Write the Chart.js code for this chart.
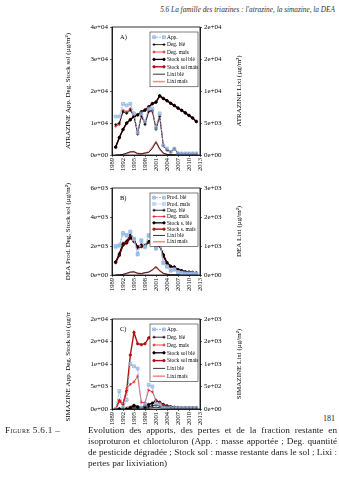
<!DOCTYPE html>
<html><head><meta charset="utf-8">
<script src="https://cdn.jsdelivr.net/npm/chart.js@4/dist/chart.umd.min.js"></script>
<style>
html,body{margin:0;padding:0;background:#fff;}
body{width:339px;height:480px;position:relative;overflow:hidden;font-family:"Liberation Serif",serif;color:#222;}
.hdr{position:absolute;right:4px;top:5px;font-style:italic;font-size:7.3px;color:#333;}
.cv{position:absolute;left:55px;}
.pg{position:absolute;right:4px;top:414px;font-size:8px;}
.cap{position:absolute;left:5px;top:425px;width:330px;display:flex;font-size:9.2px;line-height:11px;}
.cap .l{width:83px;flex:none;font-variant:small-caps;letter-spacing:0.3px;}
.cap .t{flex:1;}
.cap .t div{white-space:nowrap;text-align:justify;text-align-last:justify;}
.cap .t div.last{text-align-last:left;}
</style></head>
<body>
<div class="hdr">5.6 La famille des triazines : l'atrazine, la simazine, la DEA</div>
<canvas id="cA" class="cv" width="195" height="157" style="top:20px"></canvas>
<canvas id="cB" class="cv" width="195" height="116" style="top:181px"></canvas>
<canvas id="cC" class="cv" width="195" height="119" style="top:312px"></canvas>
<div class="pg">181</div>
<div class="cap"><div class="l">Figure 5.6.1 –</div><div class="t">
<div>Evolution des apports, des pertes et de la fraction restante en</div>
<div>isoproturon et chlortoluron (App. : masse apportée ; Deg. quantité</div>
<div>de pesticide dégradée ; Stock sol : masse restante dans le sol ; Lixi :</div>
<div class="last">pertes par lixiviation)</div>
</div></div>
<script>
const years = [1990,1991,1992,1993,1994,1995,1996,1997,1998,1999,2000,2001,2002,2003,2004,2005,2006,2007,2008,2009,2010,2011,2012];
const xTicks = [1989,1992,1995,1998,2001,2004,2007,2010,2013];

// A) ATRAZINE
const atzApp      = [12000,12000,16000,15500,16000,13000,7000,13000,10500,14500,14500,8500,13000,3000,2000,1000,2000,500,500,500,500,500,500];
const atzDegBle   = [9500,10000,13500,13000,14000,12000,6500,12500,9500,13500,14000,8000,12000,3000,1500,1000,2000,500,300,300,300,300,300];
const atzDegMais  = [9000,9500,14000,13500,14500,12500,7000,12000,10000,14000,13500,8500,12500,2800,1800,900,1800,600,400,300,300,300,300];
const atzStockBle = [2500,5500,8000,10000,11000,12000,12500,13500,14000,15000,16000,16500,18500,17700,17000,16200,15500,14700,14000,13200,12400,11600,10500];
const atzStockMais= [2400,5400,7900,9900,11100,12100,12600,13400,14100,15100,16100,16600,18400,17600,16900,16100,15400,14600,13900,13100,12300,11500,10400];
const atzLixiBle  = [0,0,100,300,500,500,200,200,300,400,1000,2000,1000,300,100,50,30,20,10,10,10,10,10];
const atzLixiMais = [0,0,80,250,450,550,250,150,300,450,1200,2100,900,250,80,40,20,10,10,10,10,10,10];

// B) DEA
const deaProdBle  = [2000,2050,2900,2750,3000,2500,1450,2400,1950,2750,2900,1850,2400,850,600,300,400,200,150,100,100,100,100];
const deaProdMais = [1900,2000,2800,2700,2950,2450,1400,2350,1900,2700,2850,1800,2350,800,550,300,350,200,150,100,100,100,100];
const deaDegBle   = [900,1500,2200,2350,2800,2500,1900,2100,2000,2300,2600,1900,2100,1300,800,600,550,350,250,200,180,150,120];
const deaDegMais  = [900,1450,2150,2300,2750,2450,1850,2050,1950,2250,2550,1850,2050,1250,780,580,530,340,240,190,170,140,110];
const deaStockBle = [900,1400,2100,2250,2600,2350,1950,2000,2050,2300,2500,2000,2050,1400,850,600,550,380,300,220,200,180,150];
const deaStockMais= [850,1350,2050,2200,2550,2300,1900,1950,2000,2250,2450,1950,2000,1350,820,580,530,360,280,210,190,170,140];
const deaLixiBle  = [0,5,20,60,100,110,60,50,80,100,180,290,150,60,25,10,5,3,2,1,1,1,1];
const deaLixiMais = [0,4,18,55,95,105,55,45,75,95,170,280,140,55,22,9,4,3,2,1,1,1,1];

// C) SIMAZINE
const simApp      = [0,4000,300,2000,10000,9500,9000,300,1000,5400,5000,1200,1000,300,200,200,200,200,200,200,200,200,200];
const simDegBle   = [0,0,0,0,200,500,300,200,300,500,700,900,700,500,400,300,250,200,200,200,200,200,200];
const simDegMais  = [0,2000,1200,4500,5500,6000,7300,1500,1400,4200,3800,2000,1400,900,600,400,350,300,300,300,300,300,300];
const simStockBle = [0,0,0,0,300,800,500,300,700,1000,1300,1800,1500,1000,700,500,400,350,300,300,300,300,300];
const simStockMais= [0,1800,1000,4000,12000,17000,14500,14300,14500,15800,16600,15900,15400,14800,14200,13500,12800,12100,11400,10700,10000,9300,8500];
const simLixiBle  = [0,0,0,0,10,20,15,10,15,20,30,40,30,20,15,10,10,8,8,8,8,8,8];
const simLixiMais = [0,20,10,40,60,90,60,40,50,80,120,170,140,90,60,50,45,40,40,40,40,40,40];

const FONT = '"Liberation Serif", serif';
function fmt(v){ const s = Number(v).toExponential(0); return s.replace(/e([+-])(\d)$/, 'e$10$2'); }
function pts(arr){ return arr.map((v,i)=>({x:years[i], y:v})); }

const STY = {
  app:   {borderColor:'#8fb3e0', backgroundColor:'rgba(160,190,232,0.5)', borderWidth:1, pointStyle:'rect', pointRadius:2, borderDash:[2,1]},
  degB:  {borderColor:'#000', backgroundColor:'#000', borderWidth:0.8, pointStyle:'cross', pointRadius:1.5},
  degM:  {borderColor:'#e02020', backgroundColor:'#e02020', borderWidth:0.8, pointStyle:'cross', pointRadius:1.5},
  stB:   {borderColor:'#000', backgroundColor:'#000', borderWidth:1.3, pointStyle:'circle', pointRadius:1.2},
  stM:   {borderColor:'#b01010', backgroundColor:'#b01010', borderWidth:1.4, pointStyle:'circle', pointRadius:1.2},
  lxB:   {borderColor:'#000', backgroundColor:'#000', borderWidth:0.8, pointStyle:false, pointRadius:0},
  lxM:   {borderColor:'#f09090', backgroundColor:'#f09090', borderWidth:1.6, pointStyle:false, pointRadius:0}
};
function ds(label, arr, sty, axis){
  return Object.assign({label, data:pts(arr), yAxisID:axis||'y', tension:0, pointBorderWidth:0.8,
    pointBackgroundColor:sty.backgroundColor, pointBorderColor:sty.borderColor}, sty);
}

const framePlugin = {
  id:'frame',
  afterDraw(chart, args, o){
    const {ctx, chartArea:a} = chart;
    ctx.save();
    ctx.strokeStyle = '#000'; ctx.lineWidth = 0.8; ctx.setLineDash([]);
    ctx.strokeRect(a.left, a.top, a.right-a.left, a.bottom-a.top);
    ctx.fillStyle = '#000';
    ctx.font = '6.5px ' + FONT; ctx.textBaseline = 'middle'; ctx.textAlign = 'left';
    ctx.fillText(o.panel, a.left + 8, a.top + 10);
    // axis titles
    ctx.font = '7px ' + FONT; ctx.textAlign = 'center';
    ctx.save(); ctx.translate(o.lx, (a.top+a.bottom)/2); ctx.rotate(-Math.PI/2);
    ctx.fillText(o.left, 0, 0); ctx.restore();
    ctx.save(); ctx.translate(o.rx, (a.top+a.bottom)/2); ctx.rotate(-Math.PI/2);
    ctx.fillText(o.right, 0, 0); ctx.restore();
    // legend box
    const n = chart.data.datasets.length, rh = o.rh || 7.3;
    const bw = 48, bh = n*rh + 3;
    const bx = a.right - bw - 2, by = a.top + 5;
    ctx.fillStyle = '#fff'; ctx.fillRect(bx, by, bw, bh);
    ctx.strokeStyle = '#000'; ctx.lineWidth = 0.5; ctx.strokeRect(bx, by, bw, bh);
    ctx.font = '5.4px ' + FONT; ctx.textAlign = 'left';
    chart.data.datasets.forEach((d, i) => {
      const y = by + 1.5 + rh*(i+0.5);
      ctx.strokeStyle = d.borderColor; ctx.lineWidth = d.borderWidth; ctx.setLineDash(d.borderDash || []);
      ctx.beginPath(); ctx.moveTo(bx+3, y); ctx.lineTo(bx+15, y); ctx.stroke(); ctx.setLineDash([]);
      if (d.pointStyle) {
        ctx.fillStyle = d.backgroundColor; ctx.strokeStyle = d.borderColor; ctx.lineWidth = 0.8;
        [bx+4, bx+14].forEach(px => Chart.helpers.drawPoint(ctx, {pointStyle:d.pointStyle, radius:d.pointRadius, rotation:0, borderWidth:0.8}, px, y));
      }
      ctx.fillStyle = '#000';
      ctx.fillText(d.label, bx + 17, y + 0.3);
    });
    ctx.restore();
  }
};

function make(id, datasets, yMax, yStep, y1Max, y1Step, frame){
  const tickFont = {family: FONT, size: 7};
  return new Chart(document.getElementById(id), {
    type:'line',
    data:{datasets},
    plugins:[framePlugin],
    options:{
      responsive:false, animation:false, devicePixelRatio:1,
      layout:{padding:{top:7, left:0, right:0, bottom:0}},
      plugins:{legend:{display:false}, tooltip:{enabled:false}, frame},
      scales:{
        x:{type:'linear', min:1989, max:2013,
           afterBuildTicks:s=>{ s.ticks = xTicks.map(v=>({value:v})); },
           ticks:{font:{family:FONT,size:6.5}, color:'#000', minRotation:90, maxRotation:90, padding:1, autoSkip:false, callback:v=>String(v)},
           grid:{drawOnChartArea:false, tickLength:2, color:'#000', lineWidth:0.6},
           border:{color:'#000', width:0.8},
           afterFit:s=>{ s.height = 22; }},
        y:{position:'left', min:0, max:yMax,
           afterBuildTicks:s=>{ const t=[]; for(let v=0; v<=yMax+1e-9; v+=yStep) t.push({value:v}); s.ticks=t; },
           ticks:{font:tickFont, color:'#000', padding:2, callback:v=>fmt(v)},
           grid:{drawOnChartArea:false, tickLength:2, color:'#000', lineWidth:0.6},
           border:{color:'#000', width:0.8},
           afterFit:s=>{ s.width = 57; }},
        y1:{position:'right', min:0, max:y1Max,
           afterBuildTicks:s=>{ const t=[]; for(let v=0; v<=y1Max+1e-9; v+=y1Step) t.push({value:v}); s.ticks=t; },
           ticks:{font:tickFont, color:'#000', padding:2, callback:v=>fmt(v)},
           grid:{drawOnChartArea:false, tickLength:2, color:'#000', lineWidth:0.6},
           border:{color:'#000', width:0.8},
           afterFit:s=>{ s.width = 50; }}
      }
    }
  });
}

make('cA', [
  ds('App.', atzApp, STY.app),
  ds('Deg. blé', atzDegBle, STY.degB),
  ds('Deg. maïs', atzDegMais, STY.degM),
  ds('Stock sol blé', atzStockBle, STY.stB),
  ds('Stock sol maïs', atzStockMais, STY.stM),
  ds('Lixi blé', atzLixiBle, STY.lxB, 'y1'),
  ds('Lixi maïs', atzLixiMais, STY.lxM, 'y1')
], 40000, 10000, 20000, 5000,
 {panel:'A)', left:'ATRAZINE App. Deg. Stock sol (µg/m²)', right:'ATRAZINE Lixi (µg/m²)', lx:13, rx:184, rh:7.4});

make('cB', [
  ds('Prod. blé', deaProdBle, STY.app),
  ds('Prod. maïs', deaProdMais, Object.assign({}, STY.app, {borderColor:'#b8cff0'})),
  ds('Deg. blé', deaDegBle, STY.degB),
  ds('Deg. maïs', deaDegMais, STY.degM),
  ds('Stock s. blé', deaStockBle, STY.stB),
  ds('Stock s. maïs', deaStockMais, STY.stM),
  ds('Lixi blé', deaLixiBle, STY.lxB, 'y1'),
  ds('Lixi maïs', deaLixiMais, STY.lxM, 'y1')
], 6000, 2000, 3000, 1000,
 {panel:'B)', left:'DEA Prod. Deg. Stock sol (µg/m²)', right:'DEA Lixi (µg/m²)', lx:13, rx:184, rh:6.3});

make('cC', [
  ds('App.', simApp, STY.app),
  ds('Deg. blé', simDegBle, STY.degB),
  ds('Deg. maïs', simDegMais, STY.degM),
  ds('Stock sol blé', simStockBle, STY.stB),
  ds('Stock sol maïs', simStockMais, STY.stM),
  ds('Lixi blé', simLixiBle, STY.lxB, 'y1'),
  ds('Lixi maïs', simLixiMais, STY.lxM, 'y1')
], 20000, 5000, 2000, 500,
 {panel:'C)', left:'SIMAZINE App. Deg. Stock sol (µg/m²)', right:'SIMAZINE Lixi (µg/m²)', lx:13, rx:184, rh:7.8});
</script>
</body></html>
